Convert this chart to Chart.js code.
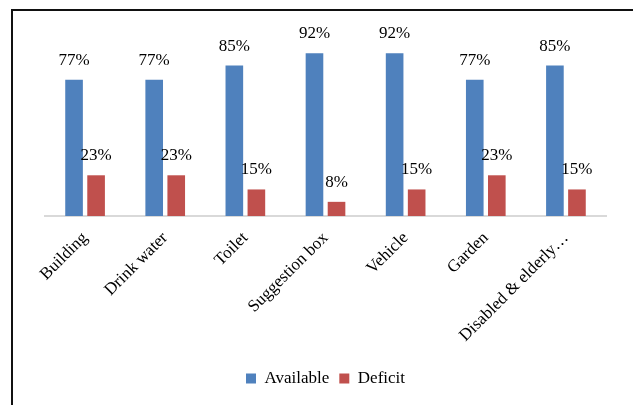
<!DOCTYPE html>
<html>
<head>
<meta charset="utf-8">
<script src="https://cdn.jsdelivr.net/npm/chart.js@4.4.1/dist/chart.umd.min.js"></script>
<style>
  html, body { margin: 0; padding: 0; background: #fff; overflow: hidden; }
  #wrap { position: relative; width: 633px; height: 405px; }
  #frame {
    position: absolute; left: 11px; top: 9px; width: 640px; height: 420px;
    border: 2px solid #111; box-sizing: border-box;
  }
  #chart { position: absolute; left: 0; top: 0; }
</style>
</head>
<body>
<div id="wrap">
  <div id="frame"></div>
  <canvas id="chart" width="633" height="405"></canvas>
</div>
<script>
const categories = ["Building", "Drink water", "Toilet", "Suggestion box", "Vehicle", "Garden", "Disabled & elderly\u2026"];
const available = [77, 77, 85, 92, 92, 77, 85];
const deficit = [23, 23, 15, 8, 15, 23, 15];

const FONT = "'Liberation Serif', 'Times New Roman', serif";

// percent labels above each bar
const barLabels = {
  id: "barLabels",
  afterDatasetsDraw(chart) {
    const ctx = chart.ctx;
    ctx.save();
    ctx.font = "17px " + FONT;
    ctx.fillStyle = "#000";
    ctx.textAlign = "center";
    ctx.textBaseline = "alphabetic";
    chart.data.datasets.forEach((ds, i) => {
      const meta = chart.getDatasetMeta(i);
      meta.data.forEach((bar, j) => {
        ctx.fillText(ds.data[j] + "%", bar.x, bar.y - 15);
      });
    });
    ctx.restore();
  }
};

new Chart(document.getElementById("chart"), {
  type: "bar",
  data: {
    labels: categories,
    datasets: [
      {
        label: "Available",
        data: available,
        backgroundColor: "#4F81BD",
        categoryPercentage: 0.55,
        barPercentage: 0.8
      },
      {
        label: "Deficit",
        data: deficit,
        backgroundColor: "#C0504D",
        categoryPercentage: 0.55,
        barPercentage: 0.8
      }
    ]
  },
  options: {
    responsive: false,
    animation: false,
    layout: {
      padding: { left: 45, right: 27, top: 39, bottom: 8 }
    },
    scales: {
      x: {
        grid: { display: false },
        border: { display: true, color: "#d9d9d9", width: 2 },
        ticks: {
          color: "#000",
          font: { family: FONT, size: 17 },
          minRotation: 45,
          maxRotation: 45,
          padding: 4
        },
        afterFit(scale) {
          scale.height = 144;
        }
      },
      y: {
        display: false,
        min: 0,
        max: 100
      }
    },
    plugins: {
      legend: {
        position: "bottom",
        labels: {
          color: "#000",
          font: { family: FONT, size: 17 },
          boxWidth: 10,
          boxHeight: 10,
          padding: 10
        }
      },
      tooltip: { enabled: false }
    }
  },
  plugins: [barLabels]
});
</script>
</body>
</html>
